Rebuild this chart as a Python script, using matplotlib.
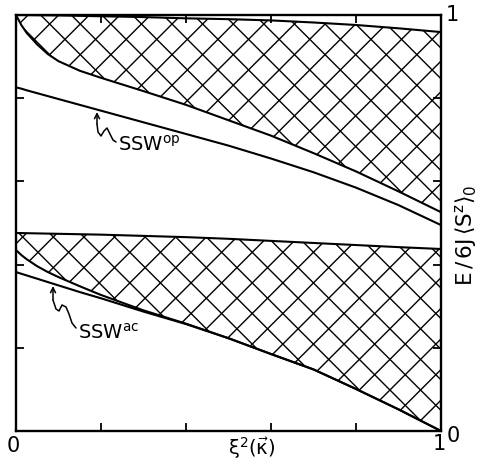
import numpy as np
import matplotlib
matplotlib.use("Agg")
import matplotlib.pyplot as plt
from matplotlib.patches import Polygon
from matplotlib.collections import LineCollection

plt.rcParams['font.family'] = ['DejaVu Sans']
plt.rcParams['mathtext.fontset'] = 'dejavusans'
plt.rcParams['mathtext.default'] = 'regular'

# ---- data ----
xi2 = [0.0, 0.0125, 0.025, 0.05, 0.075, 0.1, 0.15, 0.2, 0.3, 0.4, 0.5, 0.6, 0.7, 0.8, 0.9, 1.0]

optic_band_top = [1.0, 0.9999, 0.9998, 0.9995, 0.9993, 0.999, 0.998, 0.997, 0.995, 0.992,
                  0.990, 0.987, 0.982, 0.976, 0.968, 0.959]
optic_band_bottom = [1.0, 0.976, 0.957, 0.929, 0.906, 0.889, 0.866, 0.849, 0.817, 0.784,
                     0.747, 0.710, 0.668, 0.624, 0.576, 0.526]
ssw_op = [0.826, 0.823, 0.819, 0.812, 0.805, 0.798, 0.784, 0.770, 0.742, 0.714,
          0.686, 0.655, 0.622, 0.585, 0.543, 0.495]

acoustic_band_top = [0.476, 0.4758, 0.4755, 0.475, 0.4745, 0.474, 0.473, 0.472, 0.469, 0.466,
                     0.462, 0.457, 0.452, 0.447, 0.442, 0.4375]
acoustic_band_bottom = [0.435, 0.423, 0.413, 0.396, 0.382, 0.370, 0.348, 0.327, 0.290, 0.258,
                        0.223, 0.185, 0.148, 0.101, 0.052, 0.0]
ssw_ac = [0.382, 0.378, 0.374, 0.366, 0.358, 0.350, 0.334, 0.319, 0.287, 0.257,
          0.223, 0.185, 0.148, 0.101, 0.052, 0.0]

x_ticks = [0.2, 0.4, 0.6, 0.8]
y_ticks = [0.2, 0.4, 0.6, 0.8]

# ---- figure ----
fig = plt.figure(figsize=(4.8, 4.62), dpi=100)
ax = fig.add_axes([16/480, 31/462, 425/480, 416/462])
ax.set_xlim(0, 1)
ax.set_ylim(0, 1)

for s in ax.spines.values():
    s.set_linewidth(1.7)

ax.set_xticks(x_ticks)
ax.set_yticks(y_ticks)
ax.tick_params(direction='in', length=6, width=1.3, top=True, right=True,
               labelbottom=False, labelleft=False)

x = np.array(xi2)

def hatched_band(top, bottom, phase_a, phase_b):
    verts = np.column_stack([np.concatenate([x, x[::-1]]),
                             np.concatenate([np.array(top), np.array(bottom)[::-1]])])
    poly = Polygon(verts, closed=True, facecolor='white', edgecolor='none')
    ax.add_patch(poly)
    sx = 0.072
    sy = sx * 425 / 416
    segs = []
    for k in range(-30, 30):
        xa = np.array([-0.5, 1.5])
        ya = sy * (xa / sx - (k + phase_a))
        segs.append(np.column_stack([xa, ya]))
        yb = sy * ((k + phase_b) - xa / sx)
        segs.append(np.column_stack([xa, yb]))
    lc = LineCollection(segs, colors='black', linewidths=1.0)
    ax.add_collection(lc)
    lc.set_clip_path(poly)
    ax.plot(x, top, color='black', lw=1.5)
    ax.plot(x, bottom, color='black', lw=1.5)

hatched_band(optic_band_top, optic_band_bottom, 0.8, 0.4)
hatched_band(acoustic_band_top, acoustic_band_bottom, 0.88, 0.56)

ax.plot(x, ssw_op, color='black', lw=1.5)
ax.plot(x, ssw_ac, color='black', lw=1.5)

# ---- annotations ----
def px2ax(px, py):
    return ((px - 16) / 425.0, (431 - py) / 416.0)

def squiggle(pts):
    pts = [px2ax(*p) for p in pts]
    xs, ys = zip(*pts)
    ax.plot(xs[1:], ys[1:], color='black', lw=1.1, transform=ax.transAxes,
            clip_on=False, solid_capstyle='round')
    ax.annotate('', xy=pts[0], xytext=pts[1], xycoords='axes fraction',
                textcoords='axes fraction',
                arrowprops=dict(arrowstyle='->', lw=1.1, color='black',
                                shrinkA=0, shrinkB=0, mutation_scale=9))

squiggle([(97, 112), (97, 124), (98, 132), (101, 136), (104, 131),
          (107, 128), (110, 134), (113, 140), (116, 142)])
squiggle([(53, 286), (53, 300), (56, 309), (59, 311), (62, 305),
          (66, 307), (69, 314), (72, 323), (76, 328)])

ax.text(*px2ax(118, 151), r'SSW$^{op}$', transform=ax.transAxes,
        fontsize=14, ha='left', va='baseline')
ax.text(*px2ax(78, 339), r'SSW$^{ac}$', transform=ax.transAxes,
        fontsize=14, ha='left', va='baseline')

# axis end labels
ax.text(*px2ax(13, 446), '0', transform=ax.transAxes, fontsize=15,
        ha='center', va='center')
ax.text(*px2ax(439, 444), '1', transform=ax.transAxes, fontsize=15,
        ha='center', va='center')
ax.text(*px2ax(453, 436), '0', transform=ax.transAxes, fontsize=15,
        ha='center', va='center')
ax.text(*px2ax(452, 15), '1', transform=ax.transAxes, fontsize=15,
        ha='center', va='center')

ax.text(*px2ax(252, 448), r'$\xi^2(\vec{\kappa})$', transform=ax.transAxes,
        fontsize=14, ha='center', va='center')
ax.text(*px2ax(466, 235), r'$E\,/\,6J\,\langle S^z\rangle_0$', transform=ax.transAxes,
        fontsize=15.5, ha='center', va='center', rotation=90)

fig.savefig('out.png', dpi=100)
